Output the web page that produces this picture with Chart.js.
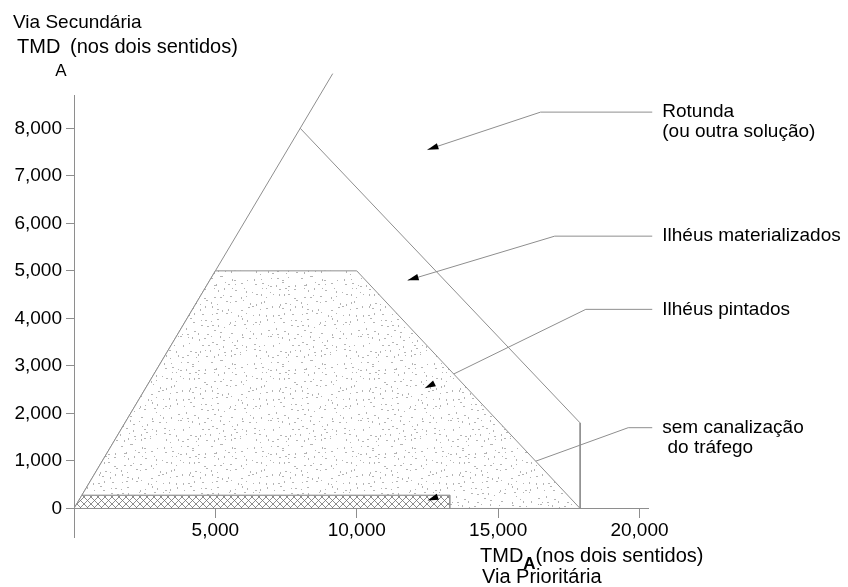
<!DOCTYPE html>
<html>
<head>
<meta charset="utf-8">
<script src="https://cdn.jsdelivr.net/npm/chart.js@4"></script>
<style>
  html, body { margin: 0; padding: 0; background: #fff; }
  #wrap { width: 848px; height: 587px; position: relative; }
</style>
</head>
<body>
<div id="wrap"><canvas id="chart"></canvas></div>
<script>
// values (TMD, vehicles/day)
const xTicks = [5000, 10000, 15000, 20000];
const yTicks = [0, 1000, 2000, 3000, 4000, 5000, 6000, 7000, 8000];

// outer boundary (y = x) and the "rotunda" limit
const diagonalX = [0, 9150];
const diagonalY = [0, 9150];
const rotundaX = [8000, 17900, 17900];
const rotundaY = [8000, 1800, 0];

// "ilhéus pintados" area (stippled)
const paintedX = [280, 5000, 10000, 17900, 13300, 13300, 280];
const paintedY = [280, 5000, 5000, 0, 0, 280, 280];

// "sem canalização" band (cross-hatched)
const bandX = [0, 280, 13300, 13300, 0];
const bandY = [0, 280, 280, 0, 0];

// leader lines: text end -> knee -> arrow tip
const leaderEndX = [20450, 20450, 20450, 20450];
const leaderKneeX = [16500, 17000, 18100, 19600];
const leaderKneeY = [8340, 5730, 4190, 1700];
const leaderTipX = [12500, 11800, 12400, 12500];
const leaderTipY = [7550, 4800, 2530, 170];
const leaderLabels = [
    ['Rotunda', '(ou outra solução)'],
    ['Ilhéus materializados'],
    ['Ilhéus pintados'],
    ['sem canalização', ' do tráfego']
];

const FAMILY = '"Liberation Sans", Arial, sans-serif';
const FONT = '19px ' + FAMILY;
const LINE = '#8e8e8e';

function pts(xs, ys) {
    return xs.map((x, i) => ({ x: x, y: ys[i] }));
}

const canvas = document.getElementById('chart');
const ctx = canvas.getContext('2d');

// speckled texture: one small speck per 6px cell, offset by a fixed hash
function makeStipple() {
    const W = 90, H = 84, cell = 6;
    const c = document.createElement('canvas');
    c.width = W; c.height = H;
    const g = c.getContext('2d');
    g.fillStyle = '#fff';
    g.fillRect(0, 0, W, H);
    g.fillStyle = '#b4b4b4';
    const hash = (a, b) => {
        let h = (a * 374761393 + b * 668265263) | 0;
        h = (h ^ (h >>> 13)) * 1274126177 | 0;
        return ((h ^ (h >>> 16)) >>> 0) / 4294967296;
    };
    for (let i = 0; i < W / cell; i++) {
        for (let j = 0; j < H / cell; j++) {
            const r1 = hash(i, j), r2 = hash(j + 91, i + 17), r3 = hash(i + 53, j + 7);
            const x = i * cell + Math.floor(r1 * (cell - 1));
            const y = j * cell + Math.floor(r2 * (cell - 1));
            if (r3 < 0.35) g.fillRect(x, y, 2, 1);
            else if (r3 < 0.6) g.fillRect(x, y, 1, 2);
            else if (r3 < 0.9) g.fillRect(x, y, 1, 1);
        }
    }
    return ctx.createPattern(c, 'repeat');
}

function makeHatch() {
    const c = document.createElement('canvas');
    c.width = 7; c.height = 7;
    const g = c.getContext('2d');
    g.fillStyle = '#fff';
    g.fillRect(0, 0, 7, 7);
    g.strokeStyle = '#707070';
    g.lineWidth = 0.8;
    g.beginPath();
    g.moveTo(0, 0); g.lineTo(7, 7);
    g.moveTo(0, 7); g.lineTo(7, 0);
    g.stroke();
    return ctx.createPattern(c, 'repeat');
}

const leaderDatasets = leaderEndX.map((ex, i) => ({
    data: [{ x: ex, y: leaderKneeY[i] }, { x: leaderKneeX[i], y: leaderKneeY[i] }, { x: leaderTipX[i], y: leaderTipY[i] }],
    showLine: true, borderColor: LINE, borderWidth: 1, pointRadius: 0, fill: false, clip: false
}));

// draws "TMD" with a subscript A, returns the x after it
function tmd(c, x, y, size, subSize, subDrop, bold) {
    c.font = size + 'px ' + FAMILY;
    c.fillText('TMD', x, y);
    x += c.measureText('TMD').width;
    c.font = (bold ? 'bold ' : '') + subSize + 'px ' + FAMILY;
    c.fillText('A', x - (bold ? 0 : 5), y + subDrop);
    const w = c.measureText('A').width;
    c.font = size + 'px ' + FAMILY;
    return x + (bold ? w : w - 2);
}

// arrow heads + all the free text
const annotate = {
    id: 'annotate',
    afterDatasetsDraw(chart) {
        const c = chart.ctx;
        const xs = chart.scales.x, ys = chart.scales.y;
        c.save();
        c.fillStyle = '#000';
        leaderTipX.forEach((tx, i) => {
            const px = xs.getPixelForValue(tx), py = ys.getPixelForValue(leaderTipY[i]);
            const kx = xs.getPixelForValue(leaderKneeX[i]), ky = ys.getPixelForValue(leaderKneeY[i]);
            const a = Math.atan2(ky - py, kx - px);
            const len = 11, half = 3.2;
            c.beginPath();
            c.moveTo(px, py);
            c.lineTo(px + len * Math.cos(a) - half * Math.sin(a), py + len * Math.sin(a) + half * Math.cos(a));
            c.lineTo(px + len * Math.cos(a) + half * Math.sin(a), py + len * Math.sin(a) - half * Math.cos(a));
            c.closePath();
            c.fill();
        });

        c.font = FONT;
        c.textBaseline = 'middle';
        c.textAlign = 'left';
        leaderLabels.forEach((lines, i) => {
            const lx = xs.getPixelForValue(leaderEndX[i]) + 10;
            const ly = ys.getPixelForValue(leaderKneeY[i]);
            lines.forEach((t, j) => c.fillText(t, lx, ly + j * 20));
        });

        // axis titles
        c.textBaseline = 'alphabetic';
        c.font = FONT;
        c.fillText('Via Secundária', 13, 28);
        tmd(c, 17, 53, 20, 17, 23, false);
        c.fillText('(nos dois sentidos)', 70, 53);

        const nx = tmd(c, 480, 562, 20, 17, 7, true);
        c.fillText('(nos dois sentidos)', nx, 562);
        c.fillText('Via Prioritária', 482, 583);
        c.restore();
    }
};

new Chart(ctx, {
    type: 'scatter',
    data: {
        datasets: [
            {
                data: pts(paintedX, paintedY), showLine: true, fill: 'shape',
                backgroundColor: makeStipple(), borderColor: LINE, borderWidth: 1, pointRadius: 0
            },
            {
                data: pts(bandX, bandY), showLine: true, fill: 'shape',
                backgroundColor: makeHatch(), borderColor: LINE, borderWidth: 1, pointRadius: 0
            },
            {
                data: pts(diagonalX, diagonalY), showLine: true, fill: false,
                borderColor: LINE, borderWidth: 1, pointRadius: 0, clip: false
            },
            {
                data: pts(rotundaX, rotundaY), showLine: true, fill: false,
                borderColor: LINE, borderWidth: 1, pointRadius: 0, clip: false
            },
            ...leaderDatasets
        ]
    },
    options: {
        responsive: true,
        maintainAspectRatio: false,
        animation: false,
        events: [],
        layout: { padding: { left: 0, top: 95, right: 200, bottom: 50 } },
        plugins: { legend: { display: false }, tooltip: { enabled: false }, title: { display: false } },
        scales: {
            x: {
                type: 'linear',
                min: 0,
                max: 20300,
                position: { y: 0 },
                afterBuildTicks: (scale) => { scale.ticks = xTicks.map(v => ({ value: v })); },
                ticks: {
                    color: '#000',
                    font: { family: FAMILY, size: 19 },
                    padding: 2,
                    maxRotation: 0,
                    callback: (v) => v.toLocaleString('en-US')
                },
                grid: { drawOnChartArea: false, drawTicks: true, tickLength: 9, color: LINE },
                border: { display: true, color: LINE, width: 1 }
            },
            y: {
                type: 'linear',
                min: -600,
                max: 8700,
                position: 'left',
                afterFit: (scale) => { scale.width = 74; },
                afterBuildTicks: (scale) => { scale.ticks = yTicks.map(v => ({ value: v })); },
                ticks: {
                    color: '#000',
                    font: { family: FAMILY, size: 19 },
                    padding: 4,
                    callback: (v) => v.toLocaleString('en-US')
                },
                grid: { drawOnChartArea: false, drawTicks: true, tickLength: 8, color: LINE },
                border: { display: true, color: LINE, width: 1 }
            }
        }
    },
    plugins: [annotate]
});
</script>
</body>
</html>
